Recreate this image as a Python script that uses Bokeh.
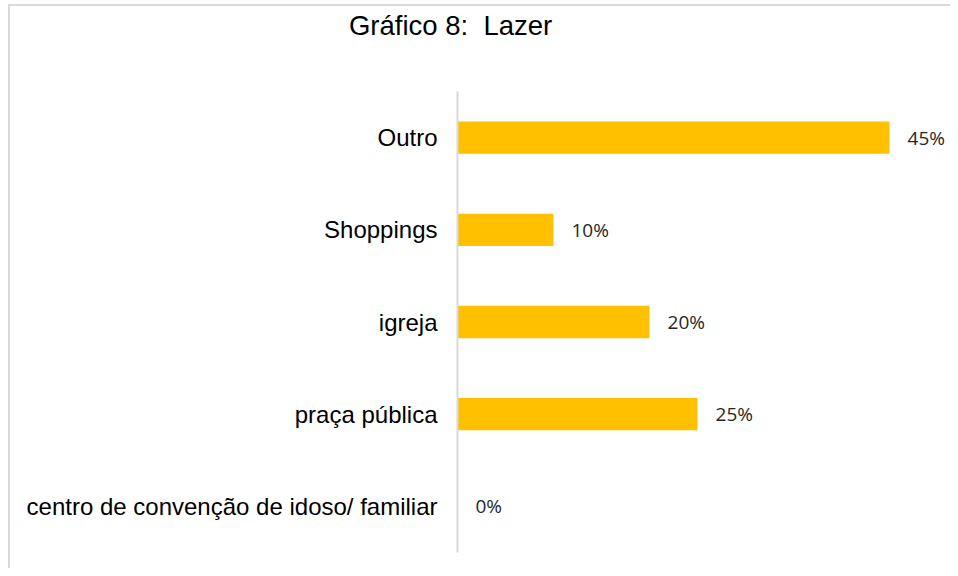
from bokeh.plotting import figure
from bokeh.models import FactorRange, Range1d, ColumnDataSource, Title
from bokeh.core.properties import value
from bokeh.embed import file_html
from bokeh.resources import INLINE

categories = ["Outro", "Shoppings", "igreja", "praça pública", "centro de convenção de idoso/ familiar"]
values = [45, 10, 20, 25, 0]
value_labels = ["45%", "10%", "20%", "25%", "0%"]
title_text = "Gráfico 8:\u00a0 Lazer"

factors = list(reversed(categories))

src = ColumnDataSource(dict(cat=categories, val=values, lab=value_labels))

p = figure(width=950, height=568, output_backend="svg", toolbar_location=None,
           y_range=FactorRange(factors=factors), x_range=Range1d(0, 51.35),
           min_border_left=457, min_border_right=0, min_border_top=90, min_border_bottom=16)

p.title = Title(text=title_text + "\n", align="left", offset=-108.6, vertical_align="top",
                standoff=18, text_line_height=1.287, text_font="Liberation Sans",
                text_font_size="27.5px", text_font_style="normal", text_color="#000000")

p.hbar(y="cat", right="val", left=0, height=0.35, source=src,
       fill_color="#FFC000", line_color=None)

p.text(x="val", y="cat", text="lab", source=src, x_offset=18,
       text_baseline="middle", text_align="left",
       text_font=value("Open Sans"), text_font_size="19px", text_color="#262626")

p.xaxis.visible = False
p.xgrid.grid_line_color = None
p.ygrid.grid_line_color = None
p.outline_line_color = None

yax = p.yaxis[0]
yax.axis_line_color = "#d9d9d9"
yax.axis_line_width = 2
yax.major_tick_line_color = None
yax.minor_tick_line_color = None
yax.major_tick_out = 0
yax.major_tick_in = 0
yax.major_label_standoff = 20
yax.major_label_text_font = "Liberation Sans"
yax.major_label_text_font_size = "24px"
yax.major_label_text_color = "#000000"

p.border_fill_color = None
p.background_fill_color = None
p.styles = {"box-shadow": "inset 8px 4px 0 0 #ffffff, inset 10px 6px 0 0 #d9d9d9",
            "background-color": "#ffffff"}

open("out.html", "w").write(file_html(p, INLINE))
